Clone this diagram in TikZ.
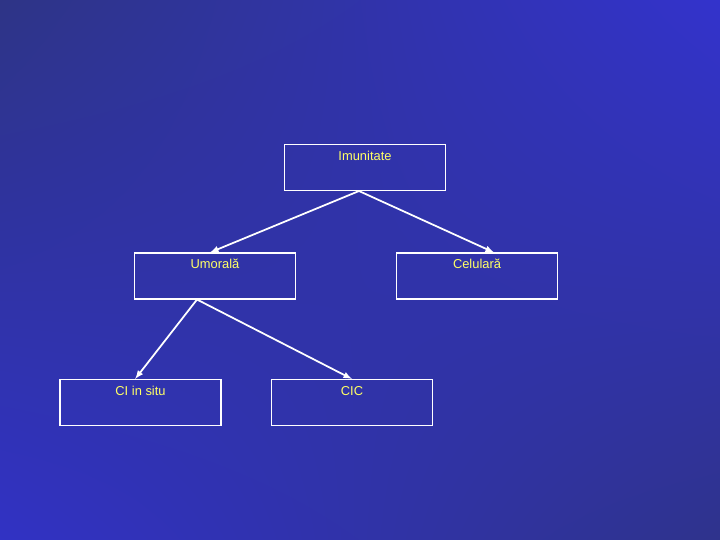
\documentclass[tikz,border=0pt]{standalone}
\usepackage{fontspec}
\setmainfont{Liberation Sans}
\usetikzlibrary{shadings}
\definecolor{bgdark}{RGB}{46,52,134}
\definecolor{bgblue}{RGB}{51,51,204}
\definecolor{bgmid}{RGB}{49,50,196}
\definecolor{bgdeep}{RGB}{47,51,140}
\definecolor{labelyellow}{RGB}{255,255,102}
\tikzset{
  box/.style={rectangle, draw=white, line width=0.9pt, inner sep=0pt,
    minimum width=4.83cm, text height=0.47cm, text depth=0.91cm,
    text=labelyellow, font=\fontsize{11}{13}\selectfont},
  link/.style={-latex, draw=white, line width=1.5pt}
}
\begin{document}
\begin{tikzpicture}[x=0.03cm, y=-0.03cm]
			\shade[upper left=bgdark, upper right=bgblue, lower left=bgmid, lower right=bgdeep]
				(0,0) rectangle (720,540);
			\useasboundingbox (0,0) rectangle (720,540);

			\node (imun)[box] at (365,167.5) {Imunitate};
			\node (umor)[box] at (215,276) {Umorală};
			\node (celul)[box] at (477,276) {Celulară};
			\node (insitu)[box] at (140.5,402.5) {CI in situ};
			\node (cic)[box] at (352,402.5) {CIC};

			\draw [link]([xshift=-0.18cm]imun.south) -- ([xshift=-0.15cm]umor.north);
			\draw [link]([xshift=-0.18cm]imun.south) -- ([xshift=0.51cm]celul.north);
			\draw [link]([xshift=-0.54cm]umor.south) -- ([xshift=-0.16cm]insitu.north);
			\draw [link]([xshift=-0.54cm]umor.south) -- (cic.north);
		\end{tikzpicture}
\end{document}
